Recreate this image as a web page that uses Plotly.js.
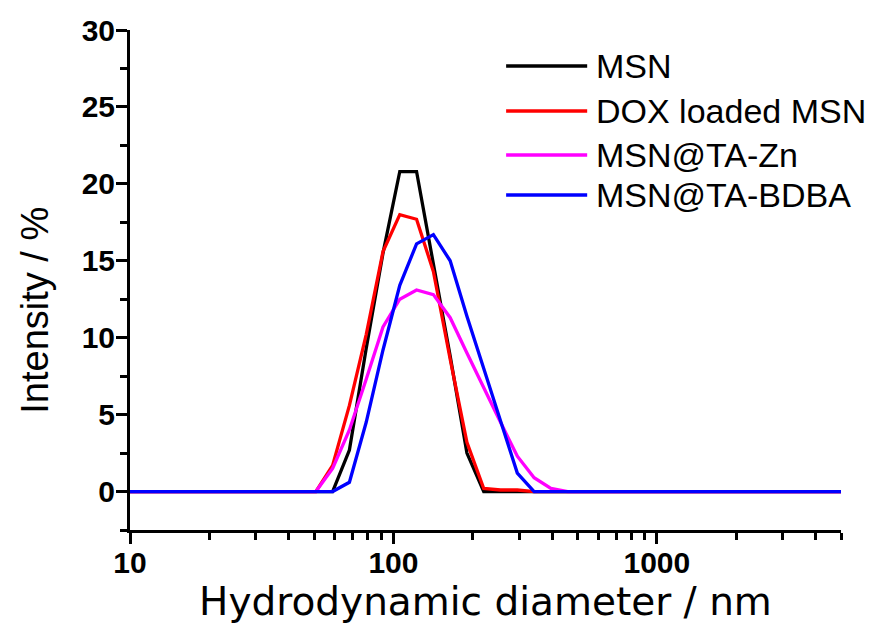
<!DOCTYPE html>
<html>
<head>
<meta charset="utf-8">
<script src="https://cdn.plot.ly/plotly-3.0.1.min.js"></script>
<style>html,body{margin:0;padding:0;background:#fff;}#chart{width:874px;height:628px;}</style>
</head>
<body>
<div id="chart"></div>
<script>
// Hydrodynamic diameter bins (nm)
var diameters = [8.721, 10.1, 11.7, 13.54, 15.69, 18.17, 21.04, 24.36, 28.21, 32.67, 37.84, 43.82,
  50.75, 58.77, 68.06, 78.82, 91.28, 105.7, 122.4, 141.8, 164.2, 190.1, 220.2, 255.0, 295.3, 342.0,
  396.1, 458.7, 531.2, 615.1, 712.4, 825.0, 955.4, 1106, 1281, 1484, 1718, 1990, 2305, 2669, 3091,
  3580, 4145, 4801, 5560];

var msn = [0,0,0,0,0,0,0,0,0,0,0,0,
  0, 0, 2.7, 9.3, 15.5, 20.8, 20.8, 14.8, 8.8, 2.5, 0, 0, 0, 0,
  0,0,0,0,0,0,0,0,0,0,0,0,0,0,0,0,0,0,0];
var doxMsn = [0,0,0,0,0,0,0,0,0,0,0,0,
  0, 1.7, 5.6, 10.2, 15.6, 18.0, 17.7, 14.3, 8.6, 3.2, 0.2, 0.1, 0.1, 0,
  0,0,0,0,0,0,0,0,0,0,0,0,0,0,0,0,0,0,0];
var msnTaZn = [0,0,0,0,0,0,0,0,0,0,0,0,
  0, 1.5, 4.0, 7.3, 10.7, 12.5, 13.1, 12.8, 11.3, 9.0, 6.7, 4.5, 2.3, 0.9,
  0.2,0,0,0,0,0,0,0,0,0,0,0,0,0,0,0,0,0,0];
var msnTaBdba = [0,0,0,0,0,0,0,0,0,0,0,0,
  0, 0, 0.6, 4.5, 9.2, 13.4, 16.1, 16.7, 15.0, 11.4, 8.0, 4.6, 1.2, 0,
  0,0,0,0,0,0,0,0,0,0,0,0,0,0,0,0,0,0,0];

var seriesNames = ["MSN", "DOX loaded MSN", "MSN@TA-Zn", "MSN@TA-BDBA"];
var seriesValues = [msn, doxMsn, msnTaZn, msnTaBdba];
var seriesColors = ["#000000", "#ff0000", "#ff00ff", "#0000ff"];

var xTickVals = [10, 100, 1000];
var xTickText = ["10", "100", "1000"];
var xMinorVals = [20,30,40,50,60,70,80,90,200,300,400,500,600,700,800,900,2000,3000,4000,5000];

var xTitle = "Hydrodynamic diameter / nm";
var yTitle = "Intensity / %";

var FONT = "'Liberation Sans', Arial, sans-serif";

var traces = seriesNames.map(function (n, i) {
  return {
    x: diameters, y: seriesValues[i], name: n, type: "scatter", mode: "lines",
    line: {color: seriesColors[i], width: 3.3}, showlegend: false
  };
});

var shapes = [], annotations = [];
var legY = [0.928, 0.838, 0.75, 0.67];
seriesNames.forEach(function (n, i) {
  shapes.push({type: "line", xref: "paper", yref: "paper", x0: 0.529, x1: 0.643, y0: legY[i], y1: legY[i],
    line: {color: seriesColors[i], width: 3.3}});
  annotations.push({xref: "paper", yref: "paper", x: 0.653, y: legY[i], xanchor: "left", yanchor: "middle",
    text: n, showarrow: false, font: {family: FONT, size: 34, color: "#000"}});
});
// y-axis title (placed slightly below centre, as in the original)
annotations.push({xref: "paper", yref: "paper", x: -0.134, y: 0.44, xanchor: "center", yanchor: "middle",
  textangle: -90, text: yTitle, showarrow: false, font: {family: FONT, size: 38, color: "#000"}});

var layout = {
  width: 874, height: 628,
  margin: {l: 130, r: 33, t: 30, b: 98},
  paper_bgcolor: "#fff", plot_bgcolor: "#fff",
  font: {family: FONT, color: "#000"},
  xaxis: {
    type: "log", range: [1, Math.log10(5000)],
    tickmode: "array", tickvals: xTickVals, ticktext: xTickText,
    ticks: "outside", ticklen: 11, tickwidth: 3, tickcolor: "#000",
    ticklabelstandoff: -7,
    minor: {tickmode: "array", tickvals: xMinorVals, ticks: "outside", ticklen: 7, tickwidth: 3, tickcolor: "#000", showgrid: false},
    showline: true, linecolor: "#000", linewidth: 3, mirror: false,
    showgrid: false, zeroline: false,
    tickfont: {family: FONT, size: 30, color: "#000", weight: "bold"},
    title: {text: xTitle, font: {family: "'DejaVu Sans', sans-serif", size: 39, color: "#000"}, standoff: 4}
  },
  yaxis: {
    range: [-2.5, 30], tickmode: "linear", tick0: 0, dtick: 5,
    ticks: "outside", ticklen: 11, tickwidth: 3, tickcolor: "#000",
    ticklabelstandoff: -5,
    minor: {dtick: 2.5, tick0: 0, ticks: "outside", ticklen: 7, tickwidth: 3, tickcolor: "#000", showgrid: false},
    showline: true, linecolor: "#000", linewidth: 3, mirror: false,
    showgrid: false, zeroline: false,
    tickfont: {family: FONT, size: 30, color: "#000", weight: "bold"}
  },
  shapes: shapes,
  annotations: annotations,
  showlegend: false
};

Plotly.newPlot("chart", traces, layout, {staticPlot: true, displayModeBar: false});
</script>
</body>
</html>
